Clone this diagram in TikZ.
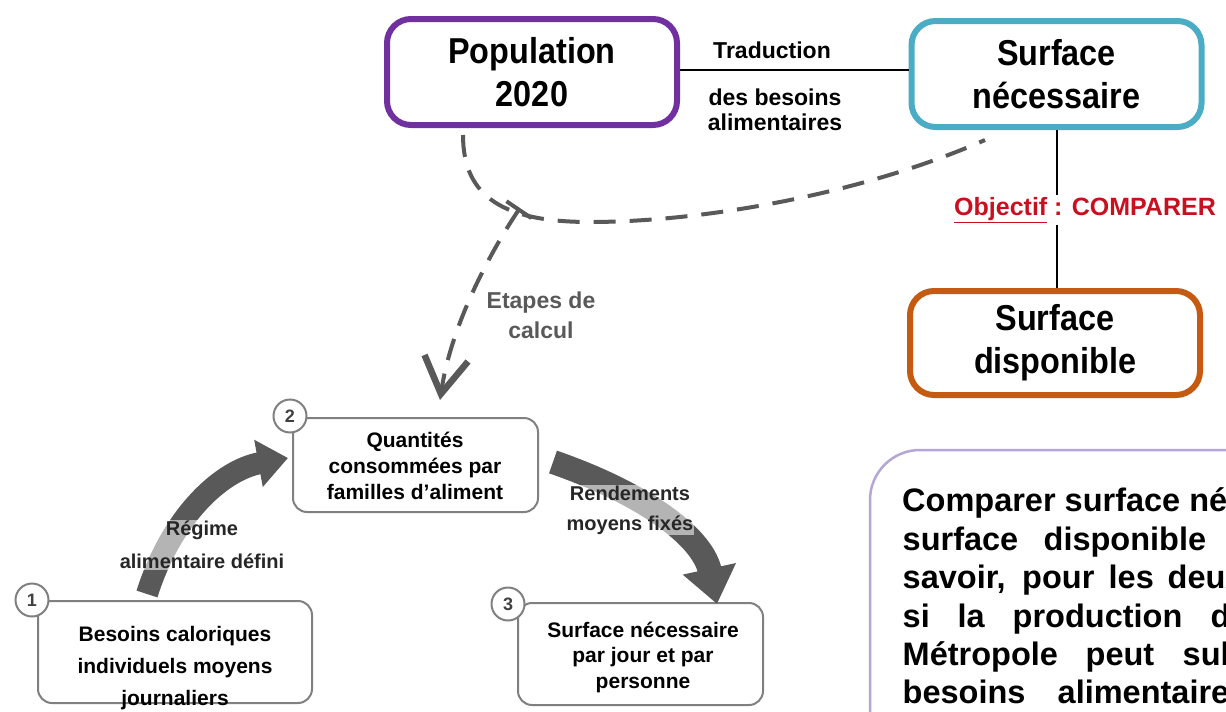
\documentclass[tikz,border=0pt]{standalone}
\usepackage{fontspec}
\usepackage{graphicx}
\setmainfont{Liberation Sans}
\usetikzlibrary{arrows.meta}
\definecolor{popc}{HTML}{7030A0}
\definecolor{snc}{HTML}{4BACC6}
\definecolor{sdc}{HTML}{C55A11}
\definecolor{dgray}{HTML}{595959}
\definecolor{objred}{HTML}{C8101E}
\definecolor{lilac}{HTML}{B4A7D6}
\definecolor{boxgray}{HTML}{808080}
\newcommand{\fs}[2]{\fontsize{#1}{#2}\selectfont\bfseries}
\newcommand{\nx}[1]{\scalebox{0.9}[1]{#1}}
\newcommand{\wordat}[2]{\makebox[0pt][l]{\hspace*{#1pt}#2}}
\tikzset{
  bigbox/.style={draw, line width=6pt, rounded corners=24pt, minimum width=290pt, minimum height=106pt, inner sep=0pt, align=center, font=\fs{36}{43}},
  smallbox/.style={draw=boxgray, line width=2pt, rounded corners=14pt, fill=white, inner sep=0pt},
  numcirc/.style={circle, draw=boxgray, line width=2pt, fill=white, minimum size=33pt, inner sep=0pt, font=\fs{18}{18}, text=black!75},
  boxtext/.style={align=center, inner sep=0pt},
  fatarrow/.style={draw=dgray, line width=22pt, -{Triangle[width=46pt,length=30pt]}},
  steplabel/.style={align=center, font=\fs{20}{32}, fill=white, fill opacity=0.55, text opacity=1, inner sep=1pt, text=black!85},
  dashline/.style={draw=dgray, line width=4pt, dash pattern=on 22pt off 14pt},
  bodytext/.style={anchor=base west, inner sep=0pt, font=\fs{32.5}{38}},
  midtext/.style={align=center, inner sep=0pt, font=\fs{23}{25}}
}
\begin{document}
\begin{tikzpicture}[x=1pt,y=-1pt]
\useasboundingbox (0,0) rectangle (1226,712);
\clip (0,0) rectangle (1226,712);
\fill[white] (0,0) rectangle (1226,712);

% top boxes
\node[bigbox, draw=popc] (pop) at (532,72) {\nx{Population}\\\nx{2020}};
\node[bigbox, draw=snc] (sn) at (1056.5,74) {\nx{Surface}\\\nx{nécessaire}};
\node[bigbox, draw=sdc, minimum height=104pt] (sd) at (1055,343) {\nx{Surface}\\\nx{disponible}};

% connector population - surface necessaire
\draw[line width=2pt] (pop.east |- 0,70) -- (sn.west |- 0,70);
\node[midtext] (trad) at (772,50) {Traduction};
\node[midtext] (besoins) at (775,110) {des besoins\\alimentaires};

% vertical connector with label
\draw[line width=2pt] (sn.south) -- (sn.south |- sd.north);
\node[fill=white, inner sep=2pt, text=objred, font=\fs{25}{26}] (obj) at (1085,210) {\underline{Objectif} : COMPARER};

% dashed curve
\coordinate (dc0) at (463,135);
\coordinate (dc1) at (590,222);
\coordinate (dc2) at (985,140);
\draw[dashline] (dc0) .. controls (463,198) and (505,222) .. (dc1) .. controls (700,222) and (860,195) .. (dc2);

% dashed arrow "Etapes de calcul"
\coordinate (tee) at (520,208);
\coordinate (etip) at (440,400);
\draw[dashline, {Bar[width=30pt,line width=4pt]}-{Straight Barb[length=36pt,width=44pt,line width=6.5pt]}] (tee) .. controls (495,245) and (452,320) .. (etip);
\node[align=center, text=dgray, font=\fs{23}{30}, inner sep=0pt] (etapes) at (541,315) {Etapes de\\calcul};

% bottom boxes
\node[smallbox, minimum width=245pt, minimum height=94pt] (b2) at (415.5,465) {};
\node[smallbox, minimum width=274pt, minimum height=102pt] (b1) at (175,652) {};
\node[smallbox, minimum width=245pt, minimum height=102pt] (b3) at (640.5,654) {};

% fat curved arrows
\coordinate (a1s) at (147,594);
\coordinate (a1e) at (288,458);
\draw[fatarrow] (a1s) .. controls (172,515) and (222,470) .. (a1e);
\coordinate (a2s) at (553,462);
\coordinate (a2e) at (717,604);
\draw[fatarrow, line width=24pt, -{Triangle[width=52pt,length=36pt]}] (a2s) .. controls (640,492) and (702,535) .. (a2e);

% box texts
\node[boxtext, font=\fs{21}{26}] (b2t) at (415,466) {Quantités\\consommées par\\familles d'aliment};
\node[boxtext, font=\fs{21}{32}] (b1t) at (175,668) {Besoins caloriques\\individuels moyens\\journaliers};
\node[boxtext, font=\fs{21}{25.5}] (b3t) at (643,657) {Surface nécessaire\\par jour et par\\personne};

% number circles
\node[numcirc] (c1) at (32,600) {1};
\node[numcirc] (c2) at (290,416) {2};
\node[numcirc] (c3) at (508,604) {3};

% arrow labels
\node[steplabel, font=\fs{20}{33}] (regime) at (202,545) {Régime\\alimentaire défini};
\node[steplabel, font=\fs{20}{30}] (rend) at (630,510) {Rendements\\moyens fixés};

% bottom-right text box
\draw[lilac, line width=2.5pt, rounded corners=50pt] (870,450) rectangle (1320,820);
\node[bodytext] (l1) at (902,511) {Comparer surface nécessaire};
\node[bodytext] (l2) at (902,550) {\wordat{0}{surface}\wordat{141}{disponible}};
\node[bodytext] (l3) at (902,588) {\wordat{0}{savoir,}\wordat{119.5}{pour}\wordat{206}{les}\wordat{265}{deux}};
\node[bodytext] (l4) at (902,627) {\wordat{0}{si}\wordat{55}{la}\wordat{110}{production}\wordat{308}{de}};
\node[bodytext] (l5) at (902,665) {\wordat{0}{Métropole}\wordat{183}{peut}\wordat{280}{subvenir}};
\node[bodytext] (l6) at (902,703) {\wordat{0}{besoins}\wordat{155}{alimentaires}};
\end{tikzpicture}
\end{document}
